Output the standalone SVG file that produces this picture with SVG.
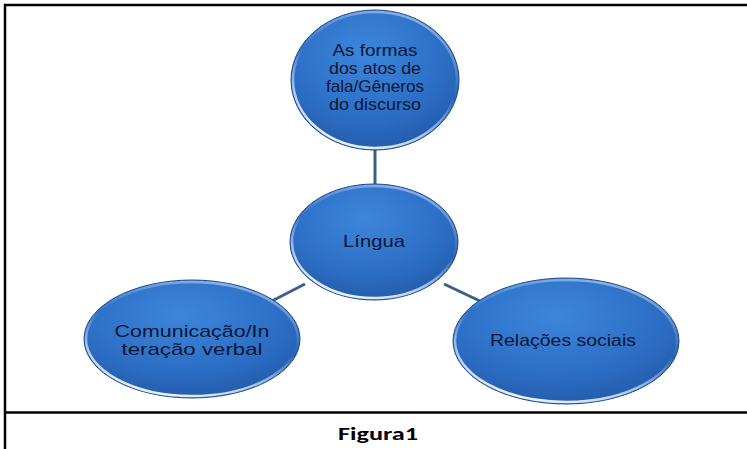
<svg xmlns="http://www.w3.org/2000/svg" width="747" height="449" viewBox="0 0 747 449">
<defs>
<radialGradient id="g" cx="0.45" cy="0.3" r="0.8">
<stop offset="0" stop-color="#3c86dc"/>
<stop offset="0.6" stop-color="#2c6dc4"/>
<stop offset="1" stop-color="#1f55a2"/>
</radialGradient>
<linearGradient id="rim" x1="0.7" y1="0" x2="0.3" y2="1">
<stop offset="0" stop-color="#ffffff" stop-opacity="0.45"/>
<stop offset="0.45" stop-color="#ffffff" stop-opacity="0"/>
<stop offset="0.75" stop-color="#e6f3ff" stop-opacity="0.7"/>
<stop offset="1" stop-color="#ffffff" stop-opacity="0.95"/>
</linearGradient>
</defs>
<style>
.node ellipse.b{fill:url(#g);stroke:#1d4d90;stroke-width:1}
.node ellipse.r{fill:none;stroke:url(#rim);stroke-width:2.5}
.node text{font-family:"Liberation Sans",Arial,sans-serif;font-size:17px;fill:#0a1733;text-anchor:middle}
.conn line{stroke:#3c5f88;stroke-width:3}
.frame{stroke:#000;stroke-width:2.5;fill:none}
</style>
<rect width="747" height="449" fill="#fff"/>
<path class="frame" d="M5,449 V5 H747"/>
<line class="frame" x1="5" y1="412.5" x2="747" y2="412.5"/>
<g id="connectors" class="conn">
<line x1="375" y1="145" x2="375" y2="190"/>
<line x1="305" y1="284" x2="268" y2="303"/>
<line x1="444" y1="284" x2="482" y2="302"/>
</g>
<g id="n-top" class="node">
<ellipse class="b" cx="375" cy="80" rx="84" ry="70"/>
<ellipse class="r" cx="375" cy="80" rx="82" ry="68"/>
<text x="375" y="56" textLength="85" lengthAdjust="spacingAndGlyphs">As formas</text>
<text x="375" y="74" textLength="92" lengthAdjust="spacingAndGlyphs">dos atos de</text>
<text x="375" y="92" textLength="98" lengthAdjust="spacingAndGlyphs">fala/Gêneros</text>
<text x="375" y="110" textLength="92" lengthAdjust="spacingAndGlyphs">do discurso</text>
</g>
<g id="n-center" class="node">
<ellipse class="b" cx="374" cy="242" rx="84" ry="58"/>
<ellipse class="r" cx="374" cy="242" rx="82" ry="56"/>
<text x="374" y="247" textLength="62" lengthAdjust="spacingAndGlyphs">Língua</text>
</g>
<g id="n-left" class="node">
<ellipse class="b" cx="192" cy="339" rx="108" ry="59"/>
<ellipse class="r" cx="192" cy="339" rx="106" ry="57"/>
<text x="192" y="337" textLength="155" lengthAdjust="spacingAndGlyphs">Comunicação/In</text>
<text x="192" y="355" textLength="141" lengthAdjust="spacingAndGlyphs">teração verbal</text>
</g>
<g id="n-right" class="node">
<ellipse class="b" cx="566" cy="341" rx="113" ry="63"/>
<ellipse class="r" cx="566" cy="341" rx="111" ry="61"/>
<text x="563" y="346" textLength="146" lengthAdjust="spacingAndGlyphs">Relações sociais</text>
</g>
<text x="378" y="440" textLength="80" lengthAdjust="spacingAndGlyphs" style="font-family:Carlito,'Liberation Sans',Arial,sans-serif;font-weight:bold;font-size:19px;text-anchor:middle;fill:#000">Figura1</text>
</svg>
